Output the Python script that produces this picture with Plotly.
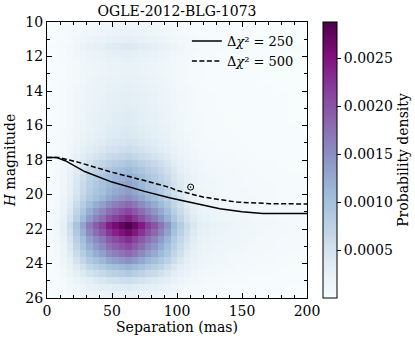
import numpy as np
import plotly.graph_objects as go

# ---- data ----
peak_density = 0.00288
sep_edges_start, sep_bin = 0.0, 5.0          # mas
mag_edges_start, mag_bin = 10.0, 0.4         # H mag

# relative profile along separation (40 bins of 5 mas)
sep_profile = [0.02, 0.04, 0.10, 0.20, 0.33, 0.45, 0.58, 0.67, 0.74, 0.84,
               0.90, 0.95, 1.00, 0.93, 0.85, 0.76, 0.69, 0.60, 0.50, 0.38,
               0.29, 0.21, 0.15, 0.11, 0.09, 0.08, 0.07, 0.06, 0.055, 0.05,
               0.045, 0.04, 0.035, 0.03, 0.03, 0.025, 0.025, 0.02, 0.02, 0.02]

# relative profile along H magnitude (40 bins of 0.4 mag, from 10 to 26)
mag_profile = [0.05, 0.07, 0.10, 0.14, 0.11, 0.09, 0.08, 0.08, 0.09, 0.10,
               0.11, 0.11, 0.12, 0.13, 0.13, 0.14, 0.15, 0.17, 0.20, 0.25,
               0.32, 0.38, 0.43, 0.46, 0.48, 0.53, 0.63, 0.73, 0.83, 1.00,
               0.92, 0.80, 0.72, 0.63, 0.52, 0.40, 0.30, 0.20, 0.13, 0.08]

# contrast curves
curve250_sep = [0, 7, 14, 29, 50, 75, 95, 115, 133, 150, 159, 166, 180, 200]
curve250_mag = [17.85, 17.85, 18.04, 18.67, 19.28, 19.82, 20.2, 20.53, 20.82, 21.0, 21.07, 21.1, 21.1, 21.1]
curve500_sep = [0, 9, 24, 50, 75, 95, 99, 120, 146, 160, 172, 200]
curve500_mag = [17.85, 17.85, 18.13, 18.71, 19.19, 19.6, 19.74, 20.15, 20.44, 20.5, 20.53, 20.55]

# detected companion
comp_sep = [110.5]
comp_mag = [19.57]

cbar_ticks = [0.0005, 0.0010, 0.0015, 0.0020, 0.0025]

# ---- build the density table ----
z = np.outer(np.array(mag_profile), np.array(sep_profile)) * peak_density
xc = sep_edges_start + sep_bin * (np.arange(len(sep_profile)) + 0.5)
yc = mag_edges_start + mag_bin * (np.arange(len(mag_profile)) + 0.5)

bupu = [[0.0, 'rgb(247,252,253)'], [0.125, 'rgb(224,236,244)'], [0.25, 'rgb(191,211,230)'],
        [0.375, 'rgb(158,188,218)'], [0.5, 'rgb(140,150,198)'], [0.625, 'rgb(140,107,177)'],
        [0.75, 'rgb(136,65,157)'], [0.875, 'rgb(129,15,124)'], [1.0, 'rgb(77,0,75)']]

FONT = "DejaVu Serif"

fig = go.Figure()
fig.add_trace(go.Heatmap(
    z=z, x=xc, y=yc, colorscale=bupu, zmin=0, zmax=peak_density,
    showscale=True, hoverinfo='skip',
    colorbar=dict(
        x=1.0615, xanchor='left', xref='paper', xpad=0, y=0.5, yanchor='middle', len=1.0, ypad=0,
        thickness=14, outlinecolor='black', outlinewidth=1,
        tickvals=cbar_ticks, ticktext=[f"{v:.4f}" for v in cbar_ticks],
        ticks='outside', ticklen=4, tickcolor='black',
        tickfont=dict(family=FONT, size=14, color='black'),
        title=dict(text='Probability density', side='right',
                   font=dict(family=FONT, size=14, color='black')),
    ),
    showlegend=False,
))
fig.add_trace(go.Scatter(
    x=curve250_sep, y=curve250_mag, mode='lines', line=dict(color='black', width=1.5),
    name='Δ<i>χ</i>² = 250'))
fig.add_trace(go.Scatter(
    x=curve500_sep, y=curve500_mag, mode='lines',
    line=dict(color='black', width=1.5, dash='5px,2.5px'),
    name='Δ<i>χ</i>² = 500'))
fig.add_trace(go.Scatter(
    x=comp_sep, y=comp_mag, mode='markers', showlegend=False,
    marker=dict(symbol='circle-open-dot', size=6, color='black', line=dict(width=1, color='black'))))

axis_common = dict(
    showgrid=False, zeroline=False, showline=True, linecolor='black', linewidth=1,
    mirror='allticks', ticks='inside', ticklen=5, tickwidth=1, tickcolor='black',
    tickfont=dict(family=FONT, size=14, color='black'),
)
fig.update_xaxes(range=[0, 200], tickvals=[0, 50, 100, 150, 200],
                 minor=dict(ticks='inside', dtick=10, ticklen=3, tickcolor='black', tickwidth=1),
                 title=dict(text='Separation (mas)', font=dict(family=FONT, size=14, color='black'), standoff=4),
                 **axis_common)
fig.update_yaxes(range=[26, 10], tickvals=list(range(10, 27, 2)),
                 minor=dict(ticks='inside', dtick=1, ticklen=3, tickcolor='black', tickwidth=1),
                 title=dict(text='<i>H</i> magnitude', font=dict(family=FONT, size=14, color='black'), standoff=6),
                 **axis_common)

fig.update_layout(
    width=415, height=340,
    margin=dict(l=47, r=108, t=22, b=42, autoexpand=False),
    paper_bgcolor='white', plot_bgcolor='white',
    font=dict(family=FONT, size=14, color='black'),
    title=dict(text='OGLE-2012-BLG-1073', x=0.5, xref='paper', xanchor='center',
               y=1 - 11 / 340, yref='container', yanchor='middle',
               font=dict(family=FONT, size=14, color='black')),
    legend=dict(x=0.538, y=0.985, xanchor='left', yanchor='top', bgcolor='rgba(0,0,0,0)',
                borderwidth=0, font=dict(family=FONT, size=13, color='black'), tracegroupgap=0),
)

fig.write_html("out.html", config={'displayModeBar': False},
               post_script="document.body.style.margin='0px';")
